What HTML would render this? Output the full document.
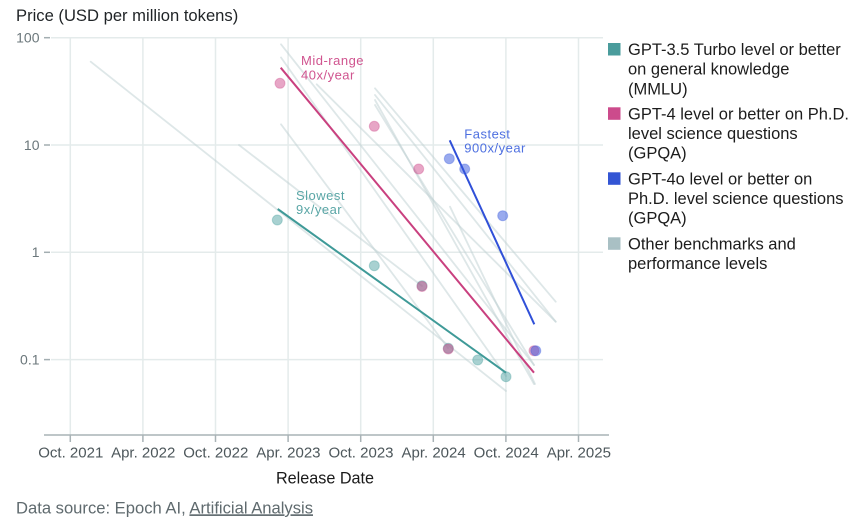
<!DOCTYPE html>
<html>
<head>
<meta charset="utf-8">
<style>
  html,body{margin:0;padding:0;background:#ffffff;}
  svg{display:block;}
  text{font-family:"Liberation Sans",sans-serif;}
</style>
</head>
<body>
<svg width="863" height="522" viewBox="0 0 863 522" xmlns="http://www.w3.org/2000/svg">
  <rect width="863" height="522" fill="#ffffff"/>

  <!-- Title -->
  <text x="16" y="21" font-size="16.6" fill="#1f2326">Price (USD per million tokens)</text>

  <!-- Gridlines -->
  <g stroke="#e4ebeb" stroke-width="1.5" fill="none">
    <line x1="51" y1="37.7" x2="603" y2="37.7"/>
    <line x1="51" y1="145" x2="603" y2="145"/>
    <line x1="51" y1="252.3" x2="603" y2="252.3"/>
    <line x1="51" y1="359.6" x2="603" y2="359.6"/>
    <line x1="70.3" y1="37.7" x2="70.3" y2="435"/>
    <line x1="142.9" y1="37.7" x2="142.9" y2="435"/>
    <line x1="215.5" y1="37.7" x2="215.5" y2="435"/>
    <line x1="288.1" y1="37.7" x2="288.1" y2="435"/>
    <line x1="360.7" y1="37.7" x2="360.7" y2="435"/>
    <line x1="433.3" y1="37.7" x2="433.3" y2="435"/>
    <line x1="505.9" y1="37.7" x2="505.9" y2="435"/>
    <line x1="578.5" y1="37.7" x2="578.5" y2="435"/>
  </g>

  <!-- Y axis ticks & labels -->
  <g stroke="#a3aeb1" stroke-width="1.5">
    <line x1="44" y1="37.7" x2="50" y2="37.7"/>
    <line x1="44" y1="145" x2="50" y2="145"/>
    <line x1="44" y1="252.3" x2="50" y2="252.3"/>
    <line x1="44" y1="359.6" x2="50" y2="359.6"/>
  </g>
  <g font-size="14" fill="#6b777b" text-anchor="end">
    <text x="39.5" y="42.6">100</text>
    <text x="39.5" y="149.9">10</text>
    <text x="39.5" y="257.2">1</text>
    <text x="39.5" y="364.5">0.1</text>
  </g>

  <!-- X axis -->
  <line x1="44" y1="435" x2="609" y2="435" stroke="#a9b3b6" stroke-width="1.5"/>
  <g stroke="#a9b3b6" stroke-width="1.5">
    <line x1="70.3" y1="435" x2="70.3" y2="442"/>
    <line x1="142.9" y1="435" x2="142.9" y2="442"/>
    <line x1="215.5" y1="435" x2="215.5" y2="442"/>
    <line x1="288.1" y1="435" x2="288.1" y2="442"/>
    <line x1="360.7" y1="435" x2="360.7" y2="442"/>
    <line x1="433.3" y1="435" x2="433.3" y2="442"/>
    <line x1="505.9" y1="435" x2="505.9" y2="442"/>
    <line x1="578.5" y1="435" x2="578.5" y2="442"/>
  </g>
  <g font-size="15" fill="#4d575b" text-anchor="middle">
    <text x="70.8" y="457.3">Oct. 2021</text>
    <text x="143.2" y="457.3">Apr. 2022</text>
    <text x="215.8" y="457.3">Oct. 2022</text>
    <text x="288.4" y="457.3">Apr. 2023</text>
    <text x="361" y="457.3">Oct. 2023</text>
    <text x="433.6" y="457.3">Apr. 2024</text>
    <text x="506.2" y="457.3">Oct. 2024</text>
    <text x="578.8" y="457.3">Apr. 2025</text>
  </g>
  <text x="325" y="483.3" font-size="16.2" fill="#1a1a1a" text-anchor="middle">Release Date</text>

  <!-- Data source -->
  <text x="16" y="513.3" font-size="16.6" fill="#5f6a6e">Data source: Epoch AI, <tspan text-decoration="underline">Artificial Analysis</tspan></text>

  <!-- Other benchmark gray lines -->
  <g stroke="#bdd0d2" stroke-width="1.8" stroke-opacity="0.5" fill="none" stroke-linecap="round">
    <line x1="90.7" y1="61.7" x2="506" y2="391"/>
    <line x1="239" y1="145" x2="422" y2="286"/>
    <line x1="281" y1="44.3" x2="534" y2="365"/>
    <line x1="281" y1="57.5" x2="506" y2="376"/>
    <line x1="316.7" y1="84.3" x2="555.7" y2="321.7"/>
    <line x1="281" y1="124.3" x2="448" y2="348"/>
    <line x1="375" y1="88.3" x2="555.7" y2="301.7"/>
    <line x1="375" y1="95" x2="555.7" y2="321.7"/>
    <line x1="375" y1="100" x2="534" y2="384"/>
    <line x1="375" y1="105" x2="534" y2="365"/>
    <line x1="450" y1="206.7" x2="535" y2="384"/>
  </g>

  <!-- Main trend lines -->
  <line x1="277.7" y1="209" x2="506" y2="372.7" stroke="#3f9a98" stroke-width="2"/>
  <line x1="280.7" y1="67.7" x2="534" y2="372.7" stroke="#c9407f" stroke-width="2"/>
  <line x1="449.7" y1="140.3" x2="534.3" y2="324.3" stroke="#3050d8" stroke-width="2"/>

  <!-- Points: teal -->
  <g fill="#3f9a98" fill-opacity="0.45" stroke="#3f9a98" stroke-opacity="0.35" stroke-width="1">
    <circle cx="277.3" cy="220" r="5"/>
    <circle cx="374.3" cy="265.7" r="5"/>
    <circle cx="422" cy="285.7" r="5"/>
    <circle cx="448.3" cy="348.3" r="5"/>
    <circle cx="477.7" cy="360" r="5"/>
    <circle cx="506" cy="376.7" r="5"/>
  </g>
  <!-- Points: pink -->
  <g fill="#cc4488" fill-opacity="0.48" stroke="#cc4488" stroke-opacity="0.35" stroke-width="1">
    <circle cx="280" cy="83.3" r="5"/>
    <circle cx="374.3" cy="126.3" r="5"/>
    <circle cx="418.7" cy="169" r="5"/>
    <circle cx="422" cy="286.5" r="5"/>
    <circle cx="448.3" cy="349" r="5"/>
    <circle cx="534" cy="350.7" r="5"/>
  </g>
  <!-- Points: blue -->
  <g fill="#3355dd" fill-opacity="0.5" stroke="#3355dd" stroke-opacity="0.35" stroke-width="1">
    <circle cx="449.3" cy="158.7" r="5"/>
    <circle cx="464.7" cy="169" r="5"/>
    <circle cx="502.7" cy="215.7" r="5"/>
    <circle cx="535.8" cy="350.7" r="5"/>
  </g>

  <!-- Annotations -->
  <g font-size="13" letter-spacing="0.5">
    <text x="301" y="65" fill="#d0548f">Mid-range</text>
    <text x="301" y="79.3" fill="#d0548f">40x/year</text>
    <text x="296" y="200" fill="#5aa6a6">Slowest</text>
    <text x="296" y="214" fill="#5aa6a6">9x/year</text>
    <text x="464.3" y="138.3" fill="#4d6fe0">Fastest</text>
    <text x="464.3" y="152.7" fill="#4d6fe0">900x/year</text>
  </g>

  <!-- Legend -->
  <rect x="608" y="43" width="12.5" height="12.5" fill="#4a9c9c"/>
  <rect x="608" y="107.3" width="12.5" height="12.5" fill="#cc4b8c"/>
  <rect x="608" y="172.3" width="12.5" height="12.5" fill="#3355d4"/>
  <rect x="608" y="237.3" width="12.5" height="12.5" fill="#a9c0c4"/>
  <g font-size="16.5" fill="#1c1c1c">
    <text x="628" y="55">GPT-3.5 Turbo level or better</text>
    <text x="628" y="74.7">on general knowledge</text>
    <text x="628" y="94.4">(MMLU)</text>
    <text x="628" y="119.3">GPT-4 level or better on Ph.D.</text>
    <text x="628" y="139">level science questions</text>
    <text x="628" y="158.7">(GPQA)</text>
    <text x="628" y="184.3">GPT-4o level or better on</text>
    <text x="628" y="204">Ph.D. level science questions</text>
    <text x="628" y="223.7">(GPQA)</text>
    <text x="628" y="249.3">Other benchmarks and</text>
    <text x="628" y="269">performance levels</text>
  </g>
</svg>
</body>
</html>
